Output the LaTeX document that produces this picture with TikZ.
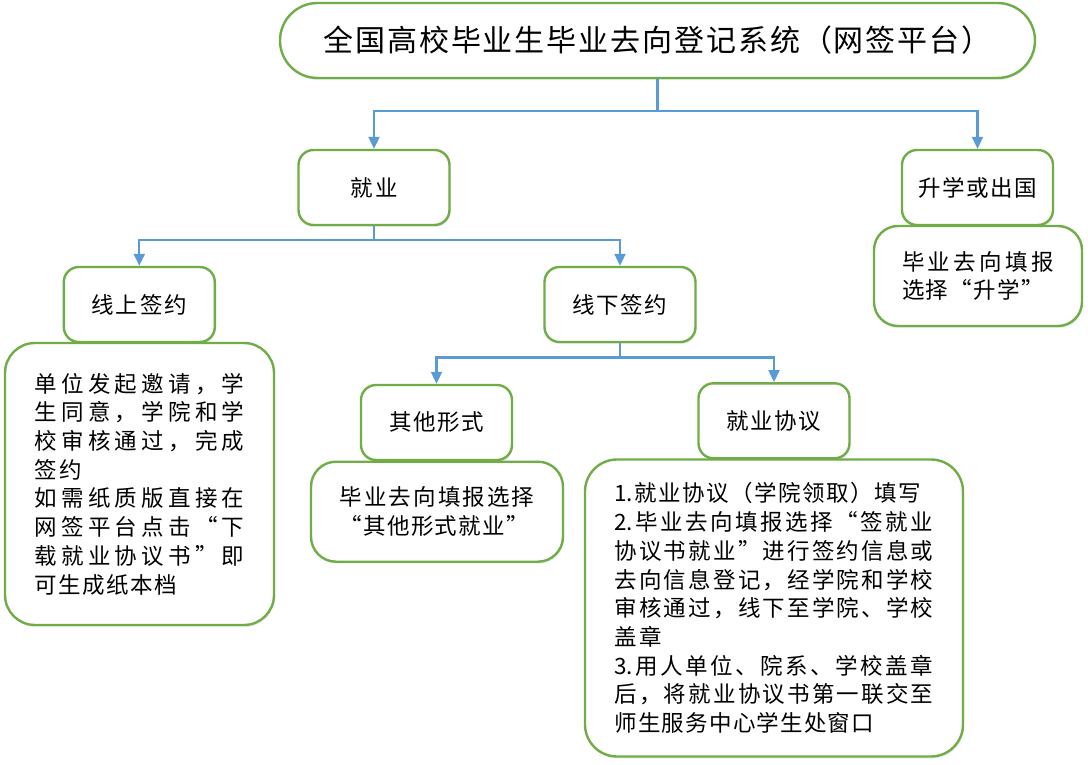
\documentclass[tikz,border=0pt]{standalone}
\usepackage{fontspec}
\setmainfont{Noto Sans CJK SC}
\usetikzlibrary{arrows.meta,shadows}
\setlength{\parindent}{0pt}
\definecolor{gboxc}{HTML}{70AD47}
\definecolor{bline}{HTML}{5B9BD5}
\newcommand\sprd[1]{\sprdi#1\relax}
\newcommand\sprdi[1]{\ifx\relax#1\unskip\else#1\hfil\expandafter\sprdi\fi}
\newcommand\jst[2]{\makebox[#1pt][s]{\sprd{#2}}}
\newcommand\oq{\makebox[1em][r]{“}}
\newcommand\cq{\makebox[1em][l]{”}}
\newcommand\nA{\mbox{1.}}
\newcommand\nB{\mbox{2.}}
\newcommand\nC{\mbox{3.}}
\tikzset{
  boxbase/.style={draw=gboxc, line width=2.4pt, fill=white, inner sep=0pt,
    font=\fontsize{22.5}{28.7}\selectfont,
    drop shadow={shadow xshift=1pt, shadow yshift=-2pt, opacity=0.25, fill=bline!40!gray!60}},
  lbl/.style={boxbase, rounded corners=15pt, minimum width=151pt, minimum height=75pt},
  bigb/.style={boxbase, align=left},
  conn/.style={draw=bline, line width=2.1pt},
  arr/.style={conn, -{Triangle[length=12pt,width=11pt]}}
}
\begin{document}
\begin{tikzpicture}[x=1pt,y=-1pt]
\fill[white] (0,0) rectangle (1088,765);
\useasboundingbox (0,0) rectangle (1088,765);

\node[boxbase, rounded corners=37.5pt, minimum width=755pt, minimum height=75pt,
  font=\fontsize{30}{36}\selectfont] (title) at (657.5,40.5)
  {\jst{668}{全国高校毕业生毕业去向登记系统（网签平台）}};

\node[lbl] (jiuye) at (374,187.5) {\jst{47.4}{就业}};
\node[lbl] (sx) at (977.5,187.5) {\jst{118.5}{升学或出国}};
\node[bigb, minimum width=208pt, minimum height=100pt, rounded corners=24pt, text width=152pt] (sxt) at (978,276)
  {\jst{152}{毕业去向填报}\\\jst{142.2}{选择\oq 升学\cq}};

\node[lbl] (online) at (139.3,304.5) {\jst{94.8}{线上签约}};
\node[lbl] (offline) at (620,304.5) {\jst{94.8}{线下签约}};

\node[bigb, minimum width=269pt, minimum height=282pt, rounded corners=30pt, text width=210pt] (onlinet) at (139.5,484)
  {\jst{210}{单位发起邀请，学}\\
   \jst{210}{生同意，学院和学}\\
   \jst{210}{校审核通过，完成}\\
   \jst{47.4}{签约}\\
   \jst{210}{如需纸质版直接在}\\
   \jst{210}{网签平台点击\oq 下}\\
   \jst{210}{载就业协议书\cq 即}\\
   \jst{142.2}{可生成纸本档}};

\node[lbl] (other) at (436.5,422.5) {\jst{94.8}{其他形式}};
\node[bigb, minimum width=252pt, minimum height=100pt, rounded corners=25pt, text width=195pt] (othert) at (437,511.7)
  {\jst{195}{毕业去向填报选择}\\\jst{189.6}{\oq 其他形式就业\cq}};

\node[lbl] (xieyi) at (774,420.8) {\jst{94.8}{就业协议}};
\node[bigb, minimum width=378pt, minimum height=297pt, rounded corners=32pt, text width=319pt] (xieyit) at (774,608)
  {\jst{307}{\nA 就业协议（学院领取）填写}\\
   \jst{319}{\nB 毕业去向填报选择\oq 签就业}\\
   \jst{319}{协议书就业\cq 进行签约信息或}\\
   \jst{319}{去向信息登记，经学院和学校}\\
   \jst{319}{审核通过，线下至学院、学校}\\
   \jst{47.2}{盖章}\\
   \jst{319}{\nC 用人单位、院系、学校盖章}\\
   \jst{319}{后，将就业协议书第一联交至}\\
   \jst{259.6}{师生服务中心学生处窗口}};

\coordinate (c1) at (657.5,111);
\draw[conn] (title.south) -- (c1);
\draw[arr] (c1) -| (jiuye.north);
\draw[arr] (c1) -| (sx.north);

\coordinate (c2) at (374,240);
\draw[conn] (jiuye.south) -- (c2);
\draw[arr] (c2) -| (online.north);
\draw[arr] (c2) -| (offline.north);

\coordinate (c3) at (620,357.5);
\draw[conn] (offline.south) -- (c3);
\draw[arr] (c3) -| (other.north);
\draw[arr] (c3) -| (xieyi.north);
\end{tikzpicture}
\end{document}
